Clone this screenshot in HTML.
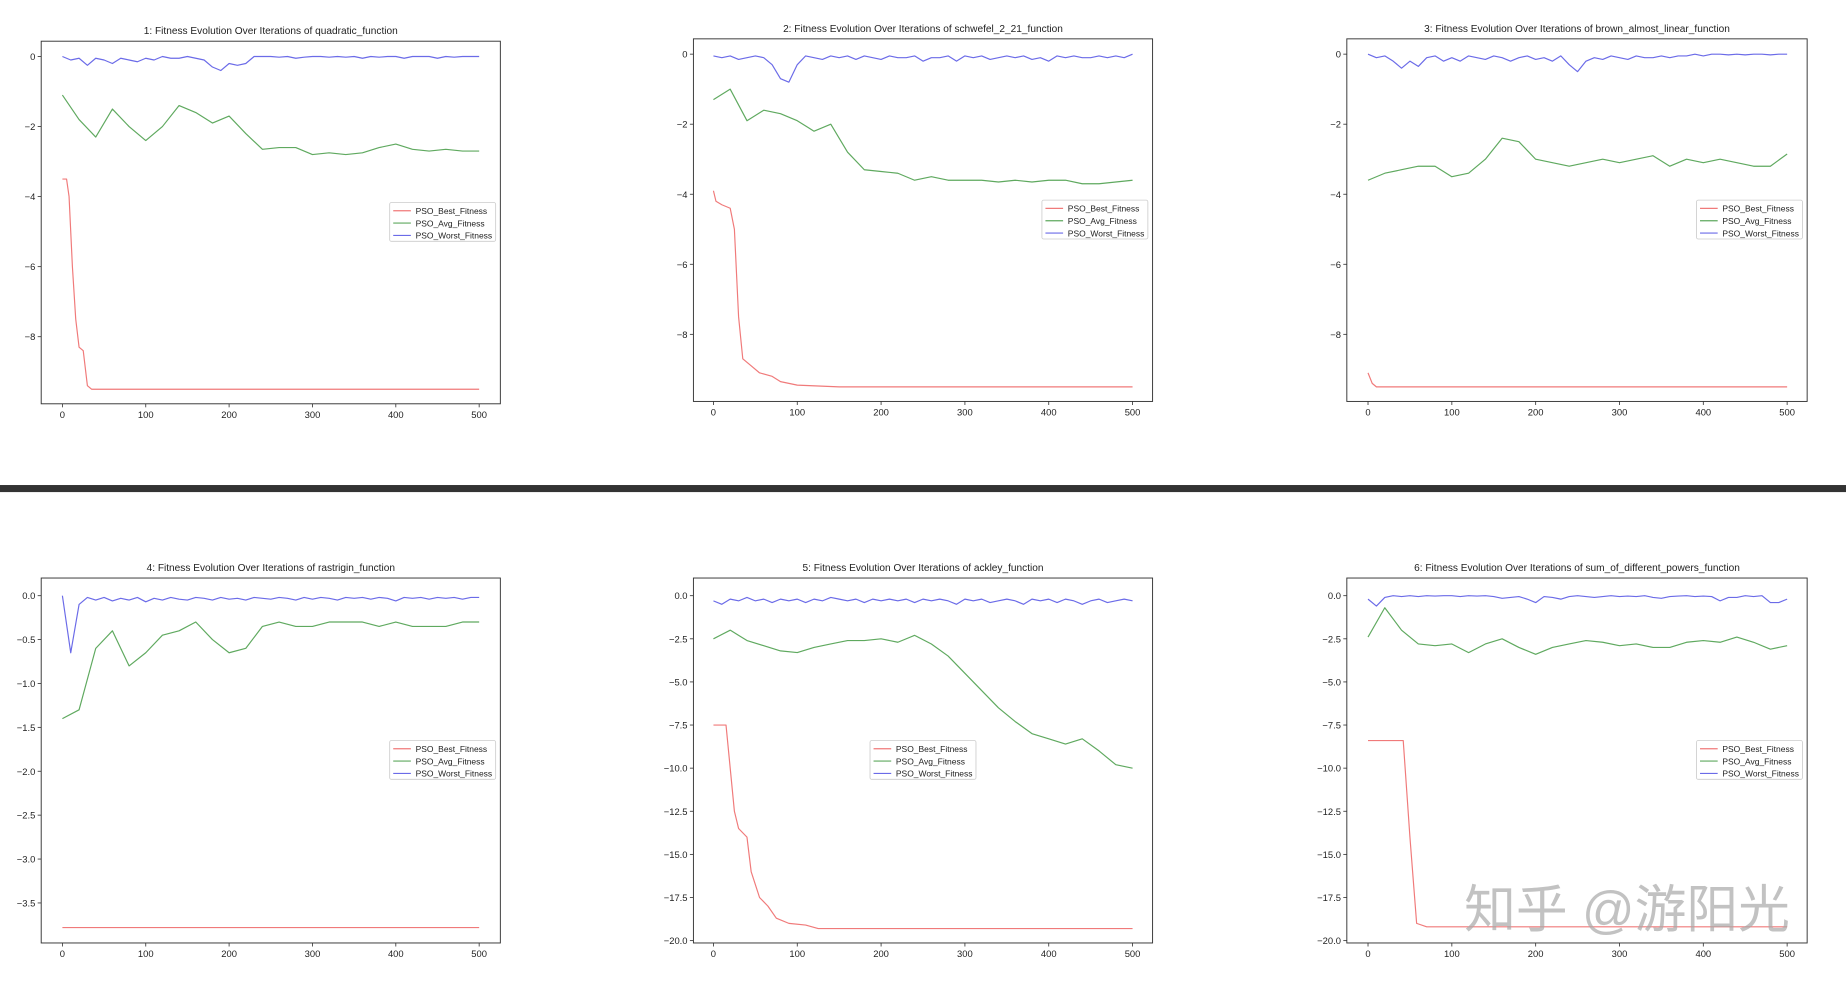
<!DOCTYPE html>
<html><head><meta charset="utf-8"><style>
html,body{margin:0;padding:0;background:#fff;width:1846px;height:983px;overflow:hidden}
svg{display:block}
text{font-family:"Liberation Sans","DejaVu Sans",sans-serif;fill:#222}
</style></head><body>
<svg id="fig" width="1846" height="983" viewBox="0 0 1568 835" preserveAspectRatio="none" xmlns="http://www.w3.org/2000/svg">
<rect x="0" y="412" width="1568" height="6" fill="#333"/>
<text x="1382" y="788" font-size="44" text-anchor="middle" style="fill:#a8a8a8;fill-opacity:0.7;font-family:'Liberation Sans','Noto Sans CJK SC',sans-serif">知乎 @游阳光</text>
</svg>
<script>
const titles=["1: Fitness Evolution Over Iterations of quadratic_function","2: Fitness Evolution Over Iterations of schwefel_2_21_function","3: Fitness Evolution Over Iterations of brown_almost_linear_function","4: Fitness Evolution Over Iterations of rastrigin_function","5: Fitness Evolution Over Iterations of ackley_function","6: Fitness Evolution Over Iterations of sum_of_different_powers_function"];
const xTicks=[0,100,200,300,400,500];
const yTicks1=[0,-2,-4,-6,-8];
const yTicks4=[0,-0.5,-1,-1.5,-2,-2.5,-3,-3.5];
const yTicks5=[0,-2.5,-5,-7.5,-10,-12.5,-15,-17.5,-20];
const avgStep=20, worstStep=10;
const best1X=[0,5,8,12,16,20,25,30,35,500];
const best1Y=[-3.5,-3.5,-4,-6,-7.5,-8.3,-8.4,-9.4,-9.5,-9.5];
const avg1=[-1.1,-1.8,-2.3,-1.5,-2.0,-2.4,-2.0,-1.4,-1.6,-1.9,-1.7,-2.2,-2.65,-2.6,-2.6,-2.8,-2.75,-2.8,-2.75,-2.6,-2.5,-2.65,-2.7,-2.65,-2.7,-2.7];
const worst1=[0,-0.1,-0.05,-0.25,-0.05,-0.1,-0.2,-0.05,-0.1,-0.15,-0.05,-0.1,0,-0.05,-0.05,0,-0.05,-0.1,-0.3,-0.4,-0.2,-0.25,-0.2,0,0,0,-0.02,0,-0.05,-0.02,0,0,-0.02,0,-0.02,0,-0.05,0,-0.02,0,0,-0.05,0,0,0,-0.05,0,-0.02,0,0,0];
const best2X=[0,3,10,20,25,30,35,45,55,70,80,100,150,500];
const best2Y=[-3.9,-4.2,-4.3,-4.4,-5,-7.5,-8.7,-8.9,-9.1,-9.2,-9.35,-9.45,-9.5,-9.5];
const avg2=[-1.3,-1.0,-1.9,-1.6,-1.7,-1.9,-2.2,-2.0,-2.8,-3.3,-3.35,-3.4,-3.6,-3.5,-3.6,-3.6,-3.6,-3.65,-3.6,-3.65,-3.6,-3.6,-3.7,-3.7,-3.65,-3.6];
const worst2=[-0.05,-0.1,-0.05,-0.15,-0.1,-0.05,-0.1,-0.3,-0.7,-0.8,-0.3,-0.05,-0.1,-0.15,-0.05,-0.1,-0.05,-0.15,-0.05,-0.1,-0.15,-0.05,-0.1,-0.1,-0.05,-0.2,-0.1,-0.1,-0.05,-0.2,-0.05,-0.1,-0.05,-0.15,-0.1,-0.05,-0.1,-0.05,-0.15,-0.1,-0.2,-0.05,-0.1,-0.05,-0.1,-0.1,-0.05,-0.1,-0.05,-0.1,0];
const best3X=[0,5,10,500];
const best3Y=[-9.1,-9.4,-9.5,-9.5];
const avg3=[-3.6,-3.4,-3.3,-3.2,-3.2,-3.5,-3.4,-3.0,-2.4,-2.5,-3.0,-3.1,-3.2,-3.1,-3.0,-3.1,-3.0,-2.9,-3.2,-3.0,-3.1,-3.0,-3.1,-3.2,-3.2,-2.85];
const worst3=[0,-0.1,-0.05,-0.2,-0.4,-0.2,-0.35,-0.1,-0.05,-0.2,-0.1,-0.2,-0.05,-0.1,-0.15,-0.05,-0.1,-0.2,-0.1,-0.05,-0.15,-0.1,-0.2,-0.05,-0.3,-0.5,-0.2,-0.1,-0.15,-0.05,-0.1,-0.15,-0.05,-0.1,-0.1,-0.05,-0.1,-0.05,-0.05,0,-0.05,0,0,-0.02,0,-0.02,0,0,-0.02,0,0];
const best4X=[0,500];
const best4Y=[-3.78,-3.78];
const avg4=[-1.4,-1.3,-0.6,-0.4,-0.8,-0.65,-0.45,-0.4,-0.3,-0.5,-0.65,-0.6,-0.35,-0.3,-0.35,-0.35,-0.3,-0.3,-0.3,-0.35,-0.3,-0.35,-0.35,-0.35,-0.3,-0.3];
const worst4=[0,-0.65,-0.1,-0.02,-0.05,-0.02,-0.06,-0.03,-0.05,-0.02,-0.07,-0.03,-0.05,-0.02,-0.04,-0.05,-0.02,-0.03,-0.05,-0.02,-0.04,-0.03,-0.05,-0.02,-0.03,-0.04,-0.02,-0.03,-0.05,-0.02,-0.04,-0.02,-0.03,-0.05,-0.02,-0.03,-0.02,-0.04,-0.02,-0.03,-0.06,-0.02,-0.03,-0.02,-0.04,-0.02,-0.03,-0.02,-0.04,-0.02,-0.02];
const best5X=[0,15,20,25,30,40,45,55,65,75,90,110,125,500];
const best5Y=[-7.5,-7.5,-10,-12.5,-13.5,-14,-16,-17.5,-18,-18.7,-19,-19.1,-19.3,-19.3];
const avg5=[-2.5,-2.0,-2.6,-2.9,-3.2,-3.3,-3.0,-2.8,-2.6,-2.6,-2.5,-2.7,-2.3,-2.8,-3.5,-4.5,-5.5,-6.5,-7.3,-8.0,-8.3,-8.6,-8.3,-9.0,-9.8,-10.0];
const worst5=[-0.3,-0.5,-0.2,-0.3,-0.1,-0.3,-0.2,-0.4,-0.2,-0.3,-0.2,-0.4,-0.2,-0.3,-0.1,-0.2,-0.3,-0.2,-0.4,-0.2,-0.3,-0.2,-0.3,-0.2,-0.4,-0.2,-0.3,-0.2,-0.3,-0.5,-0.2,-0.3,-0.2,-0.4,-0.3,-0.2,-0.3,-0.5,-0.2,-0.3,-0.2,-0.4,-0.2,-0.3,-0.5,-0.3,-0.2,-0.4,-0.3,-0.2,-0.3];
const best6X=[0,42,50,58,70,500];
const best6Y=[-8.4,-8.4,-14,-19,-19.2,-19.2];
const avg6=[-2.4,-0.7,-2.0,-2.8,-2.9,-2.8,-3.3,-2.8,-2.5,-3.0,-3.4,-3.0,-2.8,-2.6,-2.7,-2.9,-2.8,-3.0,-3.0,-2.7,-2.6,-2.7,-2.4,-2.7,-3.1,-2.9];
const worst6=[-0.2,-0.6,-0.1,0,-0.05,0,-0.05,0,-0.02,0,0,-0.05,0,-0.02,0,-0.05,-0.15,-0.1,-0.05,-0.2,-0.4,-0.05,-0.1,-0.2,-0.05,0,-0.05,-0.1,-0.05,0,-0.05,-0.02,-0.05,0,-0.1,-0.15,-0.05,-0.02,0,-0.05,-0.02,-0.05,-0.3,-0.1,-0.1,0,-0.05,0,-0.4,-0.4,-0.2];

const panels=[
 {ax:[35,35,425,343],x0:53,x500:407,yv:[0,-8],yp:[48,286],yt:yTicks1,dec:0,bx:best1X,by:best1Y,avg:avg1,worst:worst1,lg:[331,172]},
 {ax:[589,33,979,341],x0:606,x500:962,yv:[0,-8],yp:[46,284],yt:yTicks1,dec:0,bx:best2X,by:best2Y,avg:avg2,worst:worst2,lg:[885,170]},
 {ax:[1144,33,1535,341],x0:1162,x500:1518,yv:[0,-8],yp:[46,284],yt:yTicks1,dec:0,bx:best3X,by:best3Y,avg:avg3,worst:worst3,lg:[1441,170]},
 {ax:[35,491,425,801],x0:53,x500:407,yv:[0,-3.5],yp:[506,767],yt:yTicks4,dec:1,bx:best4X,by:best4Y,avg:avg4,worst:worst4,lg:[331,629]},
 {ax:[589,491,979,801],x0:606,x500:962,yv:[0,-20],yp:[506,799],yt:yTicks5,dec:1,bx:best5X,by:best5Y,avg:avg5,worst:worst5,lg:[739,629]},
 {ax:[1144,491,1535,801],x0:1162,x500:1518,yv:[0,-20],yp:[506,799],yt:yTicks5,dec:1,bx:best6X,by:best6Y,avg:avg6,worst:worst6,lg:[1441,629]}
];
const NS="http://www.w3.org/2000/svg";
const svg=document.getElementById('fig');
const wm=svg.lastElementChild;
function mk(tag,attrs,parent){const e=document.createElementNS(NS,tag);for(const k in attrs)e.setAttribute(k,attrs[k]);(parent||svg).insertBefore(e,parent?null:wm);return e;}
const colors={best:"#f07a7a",avg:"#5fa95f",worst:"#6b6be8"};
panels.forEach((p,i)=>{
 const g=mk('g',{});
 
 
 const [l,t,r,b]=p.ax;
 const xs=v=>p.x0+(v/500)*(p.x500-p.x0);
 const ys=v=>p.yp[0]+(v-p.yv[0])/(p.yv[1]-p.yv[0])*(p.yp[1]-p.yp[0]);
 const tt=mk('text',{x:(l+r)/2,y:t-6,'font-size':8.6,'text-anchor':'middle'},g);tt.textContent=titles[i];
 
 
 const fr=mk('rect',{x:l,y:t,width:r-l,height:b-t,fill:'none',stroke:'#333','stroke-width':0.8},g);
 
 
 xTicks.forEach(v=>{const X=xs(v);mk('line',{x1:X,x2:X,y1:b,y2:b+3,stroke:'#333','stroke-width':0.7},g);
  const tx=mk('text',{x:X,y:b+12,'font-size':8,'text-anchor':'middle'},g);tx.textContent=v;
  
  });
 p.yt.forEach(v=>{const Y=ys(v);mk('line',{x1:l-3,x2:l,y1:Y,y2:Y,stroke:'#333','stroke-width':0.7},g);
  const s=(v<0?'\u2212':'')+Math.abs(v).toFixed(p.dec);
  const ty=mk('text',{x:l-5,y:Y+3,'font-size':8,'text-anchor':'end'},g);ty.textContent=s;
  
  });
 const line=(pts,c,name)=>{const pl=mk('polyline',{points:pts.map(q=>q.join(',')).join(' '),fill:'none',stroke:c,'stroke-width':1,'stroke-linejoin':'round'},g);
  
  };
 line(p.bx.map((x,k)=>[xs(x),ys(p.by[k])]),colors.best,'best-fitness-line');
 line(p.avg.map((v,k)=>[xs(k*avgStep),ys(v)]),colors.avg,'avg-fitness-line');
 line(p.worst.map((v,k)=>[xs(k*worstStep),ys(v)]),colors.worst,'worst-fitness-line');
 const [lx,ly]=p.lg;
 const lgG=mk('g',{},g);
 
 
 mk('rect',{x:lx,y:ly,width:90,height:33,fill:'#fff',stroke:'#ccc','stroke-width':0.7,rx:1.5},lgG);
 [['PSO_Best_Fitness',colors.best],['PSO_Avg_Fitness',colors.avg],['PSO_Worst_Fitness',colors.worst]].forEach((e,k)=>{
  const yy=ly+7+k*10.5;
  mk('line',{x1:lx+3,x2:lx+18,y1:yy,y2:yy,stroke:e[1],'stroke-width':1},lgG);
  const lt=mk('text',{x:lx+22,y:yy+2.8,'font-size':7.2},lgG);lt.textContent=e[0];
  
  
 });
});
</script>
</body></html>
